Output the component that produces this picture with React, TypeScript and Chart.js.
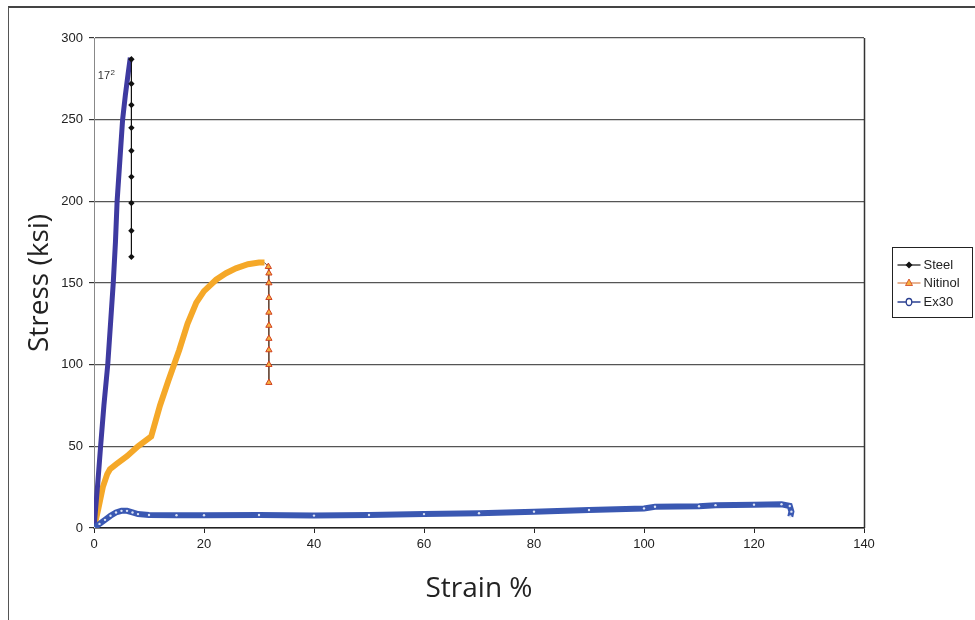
import React, { useEffect, useRef } from "react";
import { Chart, registerables } from "chart.js";

Chart.register(...registerables);

// Steel
const steelStrain = [0, 0.3, 0.7, 1.2, 1.8, 2.5, 3.0, 3.5, 3.9, 4.2, 4.7, 5.2, 5.7, 6.2, 6.6, 6.8, 6.8, 6.8, 6.8, 6.8, 6.8, 6.8, 6.8, 6.8];
const steelStress = [0, 12, 28, 50, 75, 100, 125, 150, 175, 200, 225, 250, 265, 278, 288, 287, 272, 259, 245, 231, 215, 199, 182, 166];

// Nitinol
const nitinolStrain = [0, 0.8, 1.6, 2.4, 2.9, 4, 6, 8, 10.4, 12, 13.5, 15.5, 17, 18.6, 20, 22.2, 24, 25.8, 28, 30, 31, 31.7, 31.8, 31.8, 31.8, 31.8, 31.8, 31.8, 31.8, 31.8, 31.8];
const nitinolStress = [0, 12, 25, 33, 36, 39, 44, 50, 56, 75, 90, 109, 125, 138, 145, 152, 156, 159, 161.5, 162.5, 162.5, 160, 156, 150, 141, 132, 124, 116, 109, 100, 89];

// Ex30
const ex30Strain = [0, 1, 2, 3, 4, 5, 6, 7, 8, 10, 15, 20, 30, 40, 50, 60, 70, 80, 90, 100, 102, 110, 113, 120, 125, 126.5, 126.8, 126.6];
const ex30Stress = [0, 2.5, 5, 7.5, 9.5, 10.5, 10.5, 9.5, 8.5, 8, 7.8, 7.8, 8, 7.6, 8, 8.5, 9, 10, 11, 12, 13, 13.3, 14, 14.3, 14.5, 13.5, 10, 7];

const seriesNames = ["Steel", "Nitinol", "Ex30"];
const xTickMax = 140;
const xTickStep = 20;
const yTickMax = 300;
const yTickStep = 50;
const noteText = "17";
const noteSup = "2";

const STEEL_BLUE = "rgb(62,58,160)";
const NIT_ORANGE = "rgb(245,168,40)";
const EX_BLUE = "rgb(58,88,178)";

const toPts = (xs: number[], ys: number[]) => xs.map((x, i) => ({ x, y: ys[i] }));

const steelPeak = steelStress.indexOf(Math.max(...steelStress));
const nitPeak = nitinolStress.indexOf(Math.max(...nitinolStress));

const extrasPlugin = {
  id: "extras",
  afterDraw(chart: any) {
    const { ctx, chartArea, scales } = chart;
    ctx.save();
    // plot right border
    ctx.strokeStyle = "#333";
    ctx.lineWidth = 1.5;
    ctx.beginPath();
    ctx.moveTo(chartArea.right + 0.5, chartArea.top);
    ctx.lineTo(chartArea.right + 0.5, chartArea.bottom);
    ctx.stroke();

    // annotation
    const nx = scales.x.getPixelForValue(0.7);
    const ny = scales.y.getPixelForValue(275);
    ctx.fillStyle = "#333";
    ctx.font = "11px 'Liberation Sans'";
    ctx.textBaseline = "alphabetic";
    ctx.textAlign = "left";
    ctx.fillText(noteText, nx, ny);
    const w = ctx.measureText(noteText).width;
    ctx.font = "8px 'Liberation Sans'";
    ctx.fillText(noteSup, nx + w + 0.5, ny - 4);

    // legend
    const bx = chartArea.right + 28.5;
    const by = 247.5;
    ctx.strokeStyle = "#222";
    ctx.lineWidth = 1;
    ctx.strokeRect(bx, by, 80, 70);
    const rows = [265, 283, 302];
    ctx.font = "13px 'Liberation Sans'";
    ctx.textBaseline = "middle";
    seriesNames.forEach((name, i) => {
      const y = rows[i];
      const x0 = bx + 5;
      const x1 = bx + 28;
      const mx = (x0 + x1) / 2;
      ctx.beginPath();
      if (i === 0) {
        ctx.strokeStyle = "#111";
        ctx.lineWidth = 1.2;
      } else if (i === 1) {
        ctx.strokeStyle = "#d9804a";
        ctx.lineWidth = 1.2;
      } else {
        ctx.strokeStyle = "#2a3f90";
        ctx.lineWidth = 1.5;
      }
      ctx.moveTo(x0, y);
      ctx.lineTo(x1, y);
      ctx.stroke();
      if (i === 0) {
        ctx.fillStyle = "#111";
        ctx.beginPath();
        ctx.moveTo(mx, y - 3.5);
        ctx.lineTo(mx + 3.5, y);
        ctx.lineTo(mx, y + 3.5);
        ctx.lineTo(mx - 3.5, y);
        ctx.closePath();
        ctx.fill();
      } else if (i === 1) {
        ctx.fillStyle = "#f5b040";
        ctx.strokeStyle = "#d04020";
        ctx.lineWidth = 0.8;
        ctx.beginPath();
        ctx.moveTo(mx, y - 4);
        ctx.lineTo(mx + 3.5, y + 2.5);
        ctx.lineTo(mx - 3.5, y + 2.5);
        ctx.closePath();
        ctx.fill();
        ctx.stroke();
      } else {
        ctx.fillStyle = "#fff";
        ctx.strokeStyle = "#2a3f90";
        ctx.lineWidth = 1.3;
        ctx.beginPath();
        ctx.ellipse(mx, y, 2.8, 3.5, 0, 0, Math.PI * 2);
        ctx.fill();
        ctx.stroke();
      }
      ctx.fillStyle = "#222";
      ctx.textAlign = "left";
      ctx.fillText(name, x1 + 3, y);
    });
    ctx.restore();
  },
};

export default function App() {
  const ref = useRef<HTMLCanvasElement | null>(null);
  useEffect(() => {
    if (!ref.current) return;
    const chart = new Chart(ref.current, {
      type: "line",
      data: {
        datasets: [
          {
            label: seriesNames[0],
            data: toPts(steelStrain, steelStress),
            borderColor: STEEL_BLUE,
            borderWidth: 5,
            segment: {
              borderColor: (c: any) => (c.p1.parsed.y < c.p0.parsed.y ? "#111" : STEEL_BLUE),
              borderWidth: (c: any) => (c.p1.parsed.y < c.p0.parsed.y ? 1.2 : 5),
            },
            pointStyle: "rectRot",
            pointRadius: (c: any) => (c.dataIndex > steelPeak ? 3.2 : 0),
            pointBackgroundColor: "#111",
            pointBorderColor: "#111",
            pointBorderWidth: 0,
            tension: 0,
            order: 1,
          },
          {
            label: seriesNames[1],
            data: toPts(nitinolStrain, nitinolStress),
            borderColor: NIT_ORANGE,
            borderWidth: 6,
            segment: {
              borderColor: (c: any) => (c.p0DataIndex > nitPeak && c.p1.parsed.y < c.p0.parsed.y - 1 ? "#6a4a3a" : NIT_ORANGE),
              borderWidth: (c: any) => (c.p0DataIndex > nitPeak && c.p1.parsed.y < c.p0.parsed.y - 1 ? 1 : 6),
            },
            pointStyle: "triangle",
            pointRadius: (c: any) => (c.dataIndex > nitPeak + 1 ? 3.6 : 0),
            pointBackgroundColor: "#f5b040",
            pointBorderColor: "#d04020",
            pointBorderWidth: 1,
            tension: 0,
            order: 2,
          },
          {
            label: seriesNames[2],
            data: toPts(ex30Strain, ex30Stress),
            borderColor: EX_BLUE,
            borderWidth: 6,
            pointStyle: "circle",
            pointRadius: 1.2,
            pointBackgroundColor: "#dde4f5",
            pointBorderWidth: 0,
            tension: 0,
            order: 0,
          },
        ],
      },
      options: {
        animation: false,
        responsive: true,
        maintainAspectRatio: false,
        layout: { padding: { top: 38, right: 111, bottom: 0, left: 0 } },
        plugins: { legend: { display: false }, tooltip: { enabled: false } },
        scales: {
          x: {
            type: "linear",
            min: 0,
            max: xTickMax,
            ticks: {
              stepSize: xTickStep,
              color: "#222",
              font: { family: "'Liberation Sans'", size: 13 },
              padding: 4,
              maxRotation: 0,
            },
            grid: { drawOnChartArea: false, drawTicks: true, tickLength: 5, color: "#222", tickColor: "#222" },
            border: { color: "#222", width: 1.5 },
            title: {
              display: true,
              text: "Strain %",
              color: "#222",
              font: { family: "'Open Sans'", size: 28 },
              padding: { top: 0, bottom: 14 },
            },
            afterFit: (s: any) => {
              s.height = 92;
            },
          },
          y: {
            type: "linear",
            min: 0,
            max: yTickMax,
            ticks: {
              stepSize: yTickStep,
              color: "#222",
              font: { family: "'Liberation Sans'", size: 13 },
              padding: 6,
            },
            grid: { color: "#555", lineWidth: 1.2, tickLength: 5, tickColor: "#333" },
            border: { color: "#888", width: 1 },
            title: {
              display: true,
              text: "Stress (ksi)",
              color: "#222",
              font: { family: "'Open Sans'", size: 28 },
              padding: { top: 23, bottom: 0 },
            },
            afterFit: (s: any) => {
              s.width = 94;
            },
          },
        },
      },
      plugins: [extrasPlugin],
    } as any);
    return () => chart.destroy();
  }, []);

  return (
    <div style={{ position: "fixed", left: 0, top: 0, width: 975, height: 620, background: "#fff" }}>
      <div
        style={{
          position: "absolute",
          left: 8,
          top: 6,
          width: 975,
          height: 620,
          borderTop: "2px solid #444",
          borderLeft: "1px solid #555",
          boxSizing: "border-box",
        }}
      />
      <div style={{ position: "absolute", left: 0, top: 0, width: 975, height: 620 }}>
        <canvas ref={ref} />
      </div>
    </div>
  );
}
